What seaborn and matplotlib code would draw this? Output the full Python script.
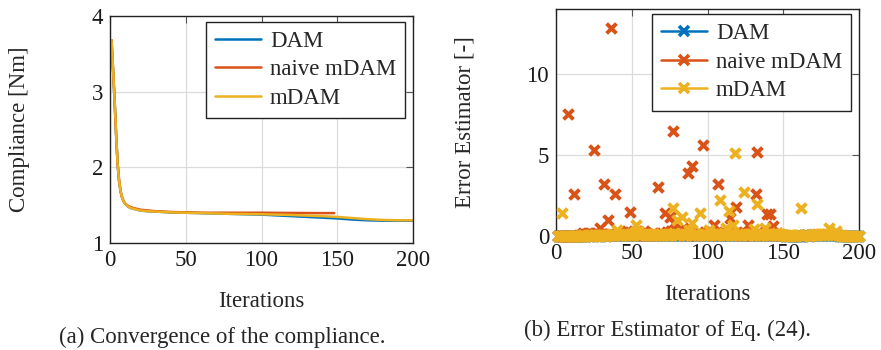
import numpy as np
import pandas as pd
import matplotlib
matplotlib.use("Agg")
import matplotlib.pyplot as plt
from matplotlib.lines import Line2D
import seaborn as sns

# Colours (MATLAB default order)
c_dam = '#0072BD'
c_naive = '#D95319'
c_mdam = '#EDB120'

# ---- (a) compliance history ----
comp_iter = [1, 2, 3, 4, 5, 6, 7, 8, 9, 10, 12, 14, 16, 18, 20, 25, 30, 40, 50,
             60, 70, 80, 90, 100, 110, 120, 130, 140, 150, 160, 170, 180, 190, 200]
comp_dam = [3.68, 3.30, 2.90, 2.45, 2.05, 1.82, 1.68, 1.60, 1.55, 1.52, 1.48, 1.46, 1.45,
            1.44, 1.43, 1.42, 1.415, 1.405, 1.40, 1.395, 1.39, 1.385, 1.38, 1.375, 1.365,
            1.355, 1.345, 1.335, 1.325, 1.31, 1.30, 1.295, 1.295, 1.295]
naive_iter = [1, 2, 3, 4, 5, 6, 7, 8, 9, 10, 12, 14, 16, 18, 20, 25, 30, 40, 50,
              60, 70, 80, 90, 100, 110, 120, 130, 140, 148]
comp_naive = [3.68, 3.30, 2.90, 2.45, 2.05, 1.82, 1.68, 1.60, 1.55, 1.52, 1.49, 1.47, 1.46,
              1.45, 1.44, 1.43, 1.42, 1.41, 1.405, 1.40, 1.40, 1.40, 1.40, 1.40, 1.398,
              1.397, 1.396, 1.395, 1.395]
comp_mdam = [3.68, 3.30, 2.90, 2.45, 2.05, 1.82, 1.68, 1.60, 1.55, 1.52, 1.48, 1.46, 1.45,
             1.44, 1.43, 1.42, 1.415, 1.405, 1.40, 1.395, 1.39, 1.385, 1.383, 1.38, 1.375,
             1.37, 1.362, 1.355, 1.345, 1.33, 1.315, 1.305, 1.30, 1.30]

# ---- (b) error estimator per iteration ----
err_dam = [
    0.03, 0.03, 0.03, 0.03, 0.03, 0.03, 0.03, 0.03, 0.03, 0.03, 0.03, 0.03, 0.03, 0.03, 0.03, 0.03, 0.03, 0.03, 0.03, 0.03,
    0.04, 0.03, 0.04, 0.03, 0.04, 0.04, 0.03, 0.04, 0.04, 0.03, 0.04, 0.04, 0.03, 0.04, 0.04, 0.04, 0.04, 0.04, 0.04, 0.04,
    0.04, 0.04, 0.04, 0.04, 0.04, 0.04, 0.04, 0.04, 0.04, 0.04, 0.04, 0.04, 0.04, 0.04, 0.04, 0.04, 0.04, 0.04, 0.04, 0.04,
    0.04, 0.04, 0.04, 0.04, 0.04, 0.04, 0.04, 0.04, 0.04, 0.04, 0.04, 0.04, 0.04, 0.04, 0.04, 0.04, 0.04, 0.04, 0.04, 0.04,
    0.04, 0.04, 0.04, 0.04, 0.04, 0.04, 0.04, 0.04, 0.04, 0.04, 0.04, 0.04, 0.04, 0.04, 0.04, 0.04, 0.04, 0.04, 0.04, 0.04,
    0.04, 0.04, 0.04, 0.04, 0.04, 0.04, 0.04, 0.04, 0.04, 0.04, 0.04, 0.04, 0.04, 0.04, 0.04, 0.04, 0.04, 0.04, 0.04, 0.04,
    0.04, 0.04, 0.04, 0.04, 0.04, 0.04, 0.04, 0.04, 0.04, 0.04, 0.04, 0.04, 0.04, 0.04, 0.04, 0.04, 0.04, 0.04, 0.04, 0.04,
    0.04, 0.04, 0.04, 0.04, 0.04, 0.04, 0.04, 0.04, 0.04, 0.04, 0.03, 0.03, 0.03, 0.03, 0.03, 0.03, 0.03, 0.03, 0.03, 0.03,
    0.03, 0.03, 0.03, 0.04, 0.04, 0.04, 0.03, 0.04, 0.04, 0.04, 0.04, 0.04, 0.04, 0.04, 0.04, 0.04, 0.04, 0.04, 0.04, 0.04,
    0.04, 0.04, 0.04, 0.04, 0.04, 0.04, 0.03, 0.03, 0.03, 0.03, 0.03, 0.03, 0.03, 0.03, 0.03, 0.03, 0.03, 0.03, 0.03, 0.03,
]
err_naive = [
    0.02, 0.02, 0.03, 0.02, 0.03, 0.02, 0.03, 7.5, 0.02, 0.03, 0.02, 2.6, 0.03, 0.02, 0.04, 0.03, 0.05, 0.2, 0.08, 0.15,
    0.2, 0.06, 0.15, 0.1, 5.3, 0.15, 0.2, 0.08, 0.5, 0.1, 0.15, 3.2, 0.06, 1.0, 0.1, 12.8, 0.08, 0.05, 2.6, 0.1,
    0.05, 0.1, 0.08, 0.25, 0.1, 0.15, 0.3, 0.08, 1.5, 0.1, 0.06, 0.2, 0.08, 0.1, 0.25, 0.05, 0.1, 0.3, 0.08, 0.05,
    0.1, 0.08, 0.05, 0.2, 0.1, 0.05, 3.0, 0.1, 0.08, 0.2, 0.05, 1.4, 0.25, 0.1, 1.15, 0.3, 6.5, 0.8, 0.1, 0.08,
    0.05, 0.2, 0.1, 0.5, 0.08, 0.1, 3.9, 0.05, 0.2, 4.3, 0.1, 0.08, 0.05, 0.25, 0.1, 0.08, 5.6, 0.1, 0.05, 0.2,
    0.1, 0.08, 0.25, 0.7, 0.1, 0.05, 3.2, 0.2, 0.08, 0.1, 0.25, 0.08, 0.1, 0.3, 1.1, 0.1, 0.08, 0.2, 1.8, 0.1,
    0.05, 0.1, 0.08, 0.25, 0.1, 0.05, 0.7, 0.1, 0.08, 0.2, 0.05, 2.6, 5.2, 0.1, 0.08, 0.05, 0.1, 0.25, 1.35, 0.1,
    1.35, 0.08, 0.6, 0.1, 0.05, 0.2, 0.08, 0.05,
]
err_mdam = [
    0.02, 0.03, 0.02, 1.4, 0.02, 0.03, 0.02, 0.03, 0.02, 0.03, 0.02, 0.03, 0.02, 0.03, 0.02, 0.03, 0.02, 0.04, 0.03, 0.02,
    0.04, 0.03, 0.05, 0.02, 0.04, 0.06, 0.03, 0.05, 0.04, 0.03, 0.06, 0.04, 0.03, 0.08, 0.05, 0.04, 0.15, 0.05, 0.08, 0.4,
    0.05, 0.08, 0.04, 0.12, 0.15, 0.05, 0.1, 0.04, 0.08, 0.12, 0.05, 0.25, 0.7, 0.3, 0.06, 0.05, 0.1, 0.12, 0.04, 0.08,
    0.12, 0.05, 0.08, 0.15, 0.04, 0.06, 0.1, 0.05, 0.12, 0.06, 0.04, 0.1, 0.06, 0.05, 0.15, 0.08, 1.7, 0.2, 0.05, 1.0,
    0.06, 0.12, 1.15, 0.05, 0.1, 0.06, 0.15, 0.4, 0.05, 0.8, 0.06, 0.1, 0.15, 0.05, 1.4, 0.06, 0.1, 0.05, 0.12, 0.06,
    0.4, 0.05, 0.1, 0.15, 0.05, 0.2, 0.06, 2.25, 0.12, 0.05, 0.1, 0.5, 0.06, 1.55, 0.15, 0.05, 0.7, 5.1, 0.06, 0.12,
    0.05, 0.1, 0.06, 2.7, 0.12, 0.05, 0.04, 0.1, 0.15, 0.05, 0.45, 0.06, 2.0, 0.05, 0.12, 0.06, 0.1, 0.5, 0.05, 0.1,
    0.06, 0.04, 0.1, 0.12, 0.05, 0.2, 0.04, 0.1, 0.05, 0.06, 0.03, 0.05, 0.02, 0.04, 0.03, 0.05, 0.03, 0.02, 0.04, 0.05,
    0.06, 1.7, 0.03, 0.04, 0.05, 0.06, 0.03, 0.08, 0.05, 0.1, 0.04, 0.12, 0.06, 0.15, 0.05, 0.12, 0.08, 0.1, 0.15, 0.5,
    0.1, 0.05, 0.12, 0.04, 0.3, 0.06, 0.05, 0.03, 0.04, 0.02, 0.02, 0.03, 0.02, 0.03, 0.02, 0.02, 0.03, 0.02, 0.02, 0.03,
]

labels = ['DAM', 'naive mDAM', 'mDAM']
colors = [c_dam, c_naive, c_mdam]

sns.set_theme(style='white')
plt.rcParams['font.family'] = ['Liberation Serif', 'DejaVu Serif']
fs = 16.5

fig = plt.figure(figsize=(8.81, 3.5), dpi=100)
ax1 = fig.add_axes([110 / 881, 1 - 243 / 350, 303 / 881, 227 / 350])
ax2 = fig.add_axes([556 / 881, 1 - 236 / 350, 303 / 881, 227 / 350])


def style_axes(ax):
    ax.grid(True, color='#dcdcdc', linewidth=0.9)
    ax.set_axisbelow(True)
    for s in ax.spines.values():
        s.set_color('#222222')
        s.set_linewidth(1.0)
    ax.tick_params(direction='in', length=5, width=0.8, color='#555555',
                   top=True, right=True, labelsize=fs, pad=5, labelcolor='#1a1a1a')


# (a) compliance
sns.lineplot(x=comp_iter, y=comp_dam, ax=ax1, color=c_dam, linewidth=1.8)
sns.lineplot(x=naive_iter, y=comp_naive, ax=ax1, color=c_naive, linewidth=1.8)
sns.lineplot(x=comp_iter, y=comp_mdam, ax=ax1, color=c_mdam, linewidth=1.8)
ax1.set_xlim(0, 200)
ax1.set_ylim(1, 4)
ax1.set_xticks([0, 50, 100, 150, 200])
ax1.set_yticks([1, 2, 3, 4])
style_axes(ax1)
ax1.set_xlabel('Iterations', fontsize=fs)
ax1.set_ylabel('Compliance [Nm]', fontsize=fs)
ax1.xaxis.set_label_coords(0.5, -0.21)
ax1.yaxis.set_label_coords(-0.265, 0.5)
h1 = [Line2D([], [], color=c, linewidth=1.8) for c in colors]
leg1 = ax1.legend(h1, labels, loc='upper right', bbox_to_anchor=(0.975, 0.975),
                  fontsize=fs, frameon=True, fancybox=False, framealpha=1,
                  edgecolor='#222222', handlelength=2.0, borderpad=0.4,
                  labelspacing=0.33, handletextpad=0.4, borderaxespad=0.0)
leg1.get_frame().set_linewidth(1.0)

# (b) error estimator
series = [err_dam, err_naive, err_mdam]
for vals, c in zip(series, colors):
    it = np.arange(1, len(vals) + 1)
    sns.scatterplot(x=it, y=vals, ax=ax2, marker='x', color=c, s=50,
                    linewidth=2.8, clip_on=False, zorder=3)
ax2.set_xlim(0, 200)
ax2.set_ylim(0, 14)
ax2.set_xticks([0, 50, 100, 150, 200])
ax2.set_yticks([0, 5, 10])
style_axes(ax2)
ax2.set_xlabel('Iterations', fontsize=fs)
ax2.set_ylabel('Error Estimator [-]', fontsize=fs)
ax2.xaxis.set_label_coords(0.5, -0.21)
ax2.yaxis.set_label_coords(-0.265, 0.5)
h2 = [Line2D([], [], color=c, linewidth=1.8, marker='x', markersize=7,
             markeredgewidth=2.6) for c in colors]
leg2 = ax2.legend(h2, labels, loc='upper right', bbox_to_anchor=(0.975, 0.978),
                  fontsize=fs, frameon=True, fancybox=False, framealpha=1,
                  edgecolor='#222222', handlelength=2.0, borderpad=0.4,
                  labelspacing=0.33, handletextpad=0.4, borderaxespad=0.0)
leg2.get_frame().set_linewidth(1.0)
leg2.set_zorder(5)

fig.text(222 / 881, 1 - 337 / 350, '(a) Convergence of the compliance.',
         ha='center', va='center', fontsize=fs)
fig.text(668 / 881, 1 - 330 / 350, '(b) Error Estimator of Eq. (24).',
         ha='center', va='center', fontsize=fs)

fig.savefig('out.png', dpi=100)
